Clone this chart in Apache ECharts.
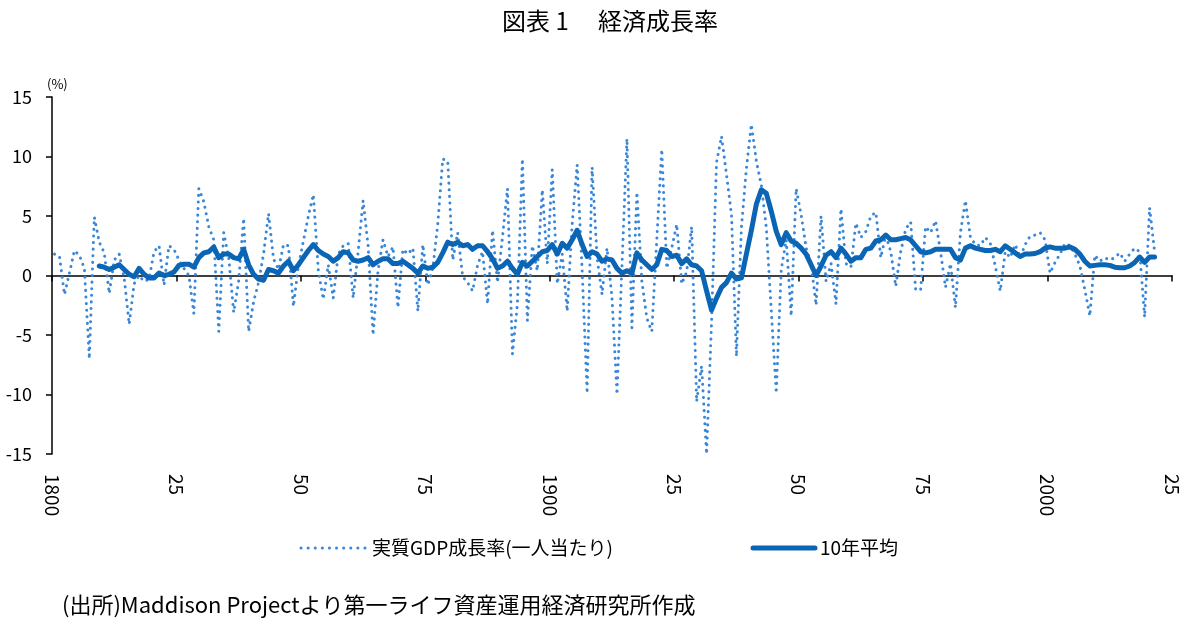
<!DOCTYPE html>
<html><head><meta charset="utf-8">
<script src="https://cdn.jsdelivr.net/npm/echarts/dist/echarts.min.js"></script>
<style>html,body{margin:0;padding:0;background:#fff}#c{width:1200px;height:639px}</style>
</head><body><div id="c"></div>
<script>
// ---- data ----
const FIRST_YEAR = 1801;          // first annual growth value
const AXIS_START = 1800;          // axis scale start
const AXIS_END = 2025;            // axis scale end
const TICK_STEP = 25;

// annual real GDP per-capita growth (%), 1801 ...
const growth = [
  1.8, 1.6, -1.6, 0.2, 2.1, 1.7, 0.6, -7.0, 4.9, 2.8,
  1.9, -1.5, 1.3, 1.8, -0.2, -4.1, -0.7, 0.0, -0.5, -0.3,
  2.0, 2.5, -0.8, 2.5, 2.2, 1.3, 0.6, 0.0, -3.2, 7.3,
  6.2, 4.1, 3.0, -4.7, 3.6, 1.5, -3.1, -0.5, 4.8, -4.7,
  -2.2, -0.6, 1.8, 5.2, 1.4, 0.5, 2.6, 2.5, -2.6, 0.8,
  2.9, 5.0, 6.8, 0.4, -2.0, 0.9, -1.9, 1.8, 2.5, 2.7,
  -1.9, 2.0, 6.3, 2.5, -5.0, 0.4, 3.0, 1.6, 2.4, -2.7,
  2.2, 1.8, 2.3, -3.0, 2.6, -0.8, 0.6, 4.3, 9.8, 9.6,
  1.3, 3.6, -0.1, -0.6, -1.3, 0.9, 2.0, -2.4, 3.8, -0.6,
  3.2, 7.3, -6.6, -2.4, 9.8, -3.8, 2.5, 0.4, 7.2, 1.0,
  8.9, -0.7, 1.8, -3.0, 4.3, 9.3, 0.4, -9.9, 9.1, 1.5,
  -1.6, 2.3, -1.9, -10.0, 0.7, 11.5, -4.4, 7.0, -0.5, -3.6,
  -4.7, 3.0, 10.6, 0.6, 2.3, 4.3, -0.7, 0.3, 4.1, -10.6,
  -7.6, -15.0, -4.0, 9.5, 11.7, 8.5, 5.1, -6.8, 4.0, 9.0,
  12.7, 9.6, 7.6, 4.0, -3.0, -9.9, 0.5, 3.0, -3.4, 7.3,
  5.1, 2.3, 1.0, -2.5, 5.0, -0.5, 1.0, -2.4, 5.6, 1.0,
  0.7, 4.4, 3.2, 3.7, 5.0, 5.3, 1.5, 3.4, 2.0, -0.9,
  2.0, 3.9, 4.5, -1.2, -1.2, 4.1, 3.6, 4.6, 2.0, -1.0,
  1.0, -2.7, 3.6, 6.3, 3.2, 2.6, 2.5, 3.2, 2.7, 0.8,
  -1.3, 2.0, 1.5, 2.6, 1.5, 2.6, 3.3, 3.4, 3.6, 3.0,
  0.2, 1.1, 1.8, 2.7, 2.5, 1.8, 0.8, -1.2, -3.4, 1.7,
  1.2, 1.5, 1.3, 1.5, 1.9, 1.2, 1.8, 2.3, 2.0, -3.5,
  5.7, 2.0
];

// 10-year average (%), 1810 ...
const AVG_FIRST_YEAR = 1810;
const avg10 = [
  0.8, 0.7, 0.5, 0.7, 0.9, 0.5, 0.1, -0.1, 0.6, 0.1, -0.2,
  -0.2, 0.2, 0.0, 0.1, 0.3, 0.85, 0.95, 0.95, 0.7, 1.5,
  1.9, 2.0, 2.4, 1.5, 1.8, 1.8, 1.5, 1.4, 2.2, 0.9,
  0.1, -0.3, -0.4, 0.5, 0.4, 0.2, 0.8, 1.2, 0.4, 0.9,
  1.5, 2.1, 2.6, 2.1, 1.8, 1.6, 1.2, 1.5, 2.0, 1.9,
  1.3, 1.2, 1.3, 1.5, 0.9, 1.2, 1.4, 1.4, 1.0, 1.0,
  1.2, 0.9, 0.6, 0.2, 0.8, 0.6, 0.7, 1.1, 1.9, 2.8,
  2.6, 2.8, 2.5, 2.6, 2.2, 2.5, 2.5, 2.0, 1.4, 0.6,
  0.8, 1.2, 0.6, 0.1, 1.1, 0.8, 1.2, 1.6, 2.0, 2.1,
  2.6, 1.8, 2.7, 2.3, 3.0, 3.8, 2.6, 1.6, 2.0, 1.8,
  1.2, 1.4, 1.3, 0.6, 0.2, 0.4, 0.2, 1.9, 1.3, 0.9,
  0.5, 0.9, 2.2, 2.1, 1.6, 1.7, 1.0, 1.4, 0.9, 0.8,
  0.4, -1.3, -2.9, -1.9, -1.0, -0.6, 0.2, -0.3, -0.2, 1.8,
  3.8, 6.0, 7.2, 6.9, 5.4, 3.7, 2.6, 3.6, 2.9, 2.7,
  2.3, 1.8, 0.9, 0.0, 0.8, 1.7, 2.0, 1.5, 2.3, 1.8,
  1.2, 1.5, 1.5, 2.2, 2.3, 2.9, 3.0, 3.4, 3.0, 3.0,
  3.1, 3.2, 3.0, 2.5, 2.0, 1.9, 2.0, 2.2, 2.2, 2.2,
  2.2, 1.5, 1.3, 2.3, 2.5, 2.3, 2.2, 2.1, 2.1, 2.2,
  2.0, 2.5, 2.2, 1.9, 1.6, 1.8, 1.8, 1.85, 2.0, 2.3,
  2.4, 2.3, 2.3, 2.3, 2.4, 2.2, 1.8, 1.2, 0.8, 0.85,
  0.9, 0.9, 0.85, 0.7, 0.65, 0.65, 0.8, 1.1, 1.55, 1.1,
  1.55, 1.55
];

const Y_MIN = -15, Y_MAX = 15, Y_STEP = 5;
const TITLE_HEAD = '図表 1';
const TITLE_BODY = '経済成長率';
const UNIT = '(%)';
const NAME_GROWTH = '実質GDP成長率(一人当たり)';
const NAME_AVG = '10年平均';
const SOURCE = '(出所)Maddison Projectより第一ライフ資産運用経済研究所作成';

// ---- chart ----
const FONT = '"Noto Sans CJK JP", "Noto Sans", sans-serif';
const C_DOT = '#3a87d7';
const C_AVG = '#0b65b5';
const categories = [];
for (let y = FIRST_YEAR; y <= AXIS_END; y++) categories.push(String(y));
const avgData = avg10.map((v, i) => [String(AVG_FIRST_YEAR + i), v]);

const chart = echarts.init(document.getElementById('c'), null, {renderer: 'canvas'});
chart.setOption({
  animation: false,
  backgroundColor: '#fff',
  grid: {left: 52, right: 28, top: 97, bottom: 185, containLabel: false},
  graphic: [
    {type: 'text', left: 502, top: 9, style: {text: TITLE_HEAD, font: '24px ' + FONT, fill: '#000'}},
    {type: 'text', left: 598, top: 9, style: {text: TITLE_BODY, font: '24px ' + FONT, fill: '#000'}},
    {type: 'text', left: 47, top: 78, style: {text: UNIT, font: '13px ' + FONT, fill: '#000'}},
    {type: 'text', left: 62, top: 594, style: {text: SOURCE, font: '22px ' + FONT, fill: '#000'}},
    // legend
    {type: 'line', shape: {x1: 301, y1: 548, x2: 365, y2: 548},
     style: {stroke: C_DOT, lineWidth: 3, lineDash: [0.1, 7], lineCap: 'round'}},
    {type: 'text', x: 372, y: 548, style: {text: NAME_GROWTH, font: '19px ' + FONT, fill: '#000', textVerticalAlign: 'middle', verticalAlign: 'middle'}},
    {type: 'line', shape: {x1: 753, y1: 548, x2: 815, y2: 548},
     style: {stroke: C_AVG, lineWidth: 5, lineCap: 'round'}},
    {type: 'text', x: 820, y: 548, style: {text: NAME_AVG, font: '19px ' + FONT, fill: '#000', textVerticalAlign: 'middle', verticalAlign: 'middle'}}
  ],
  xAxis: [
    {type: 'category', data: categories, boundaryGap: true, show: false,
     axisLine: {onZero: false}},
    {type: 'value', min: AXIS_START, max: AXIS_END, interval: TICK_STEP, position: 'bottom',
     axisLine: {show: true, onZero: true, onZeroAxisIndex: 0, lineStyle: {color: '#000', width: 1.5}},
     axisTick: {show: true, length: 6, lineStyle: {color: '#000', width: 1.5}},
     axisLabel: {show: false}, splitLine: {show: false}},
    {type: 'value', min: AXIS_START, max: AXIS_END, interval: TICK_STEP, position: 'bottom',
     axisLine: {show: false, onZero: false}, axisTick: {show: false}, splitLine: {show: false},
     axisLabel: {rotate: -90, margin: 20, fontSize: 19, color: '#000', fontFamily: FONT,
       formatter: v => (v % 100 === 0 ? String(v) : String(v % 100).padStart(2, '0'))}}
  ],
  yAxis: {
    type: 'value', min: Y_MIN, max: Y_MAX, interval: Y_STEP,
    axisLine: {show: true, onZero: false, lineStyle: {color: '#000', width: 1.5}},
    axisTick: {show: true, length: 6, lineStyle: {color: '#000', width: 1.5}},
    axisLabel: {fontSize: 18, color: '#000', margin: 20, fontFamily: FONT},
    splitLine: {show: false}
  },
  series: [
    {name: NAME_GROWTH, type: 'line', xAxisIndex: 0, data: growth, symbol: 'none',
     lineStyle: {color: C_DOT, width: 3, type: [0.1, 6.5], cap: 'round'}, z: 2},
    {name: NAME_AVG, type: 'line', xAxisIndex: 0, data: avgData, symbol: 'none',
     lineStyle: {color: C_AVG, width: 5, cap: 'round', join: 'round'}, z: 3}
  ]
});
</script>
</body></html>
